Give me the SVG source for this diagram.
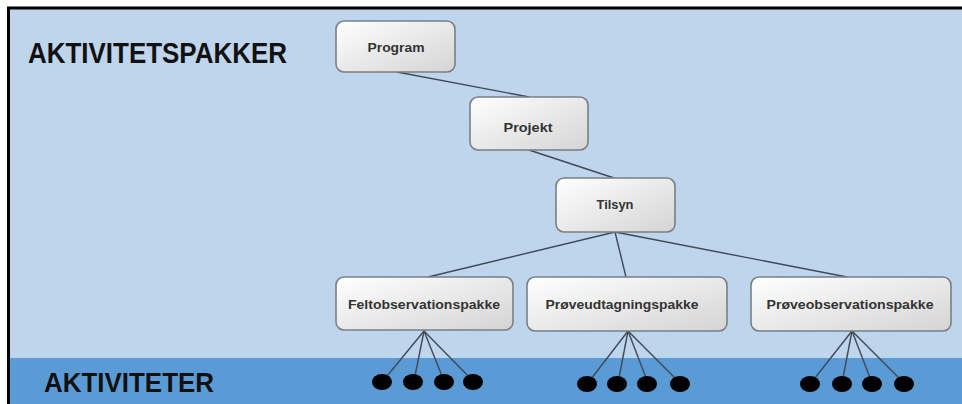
<svg xmlns="http://www.w3.org/2000/svg" width="962" height="404" viewBox="0 0 962 404">
<defs>
<linearGradient id="g" x1="0" y1="0" x2="1" y2="1">
<stop offset="0" stop-color="#ffffff"/>
<stop offset="1" stop-color="#d4d4d4"/>
</linearGradient>
<style>
.node rect{fill:url(#g);stroke:#7a7f86;stroke-width:1.6}
.node text{font-family:"Liberation Sans",Arial,sans-serif;font-weight:bold;font-size:12px;fill:#333;text-anchor:middle}
.big{font-family:"Liberation Sans",Arial,sans-serif;font-weight:bold;fill:#111}
#connectors line{stroke:#3d4a57;stroke-width:1.4}
.dot{fill:#000}
</style>
</defs>
<rect x="0" y="0" width="962" height="404" fill="#fff"/>
<rect x="9" y="8" width="953" height="396" fill="#bfd5ec"/>
<rect x="9" y="358" width="953" height="46" fill="#5b9bd5"/>
<path d="M8.5 404 V8 H962" fill="none" stroke="#000" stroke-width="3"/>
<text class="big" x="28" y="63" font-size="30" textLength="259" lengthAdjust="spacingAndGlyphs">AKTIVITETSPAKKER</text>
<text class="big" x="44" y="392" font-size="28" textLength="170" lengthAdjust="spacingAndGlyphs">AKTIVITETER</text>
<g id="connectors">
<line x1="397" y1="72" x2="529" y2="97"/>
<line x1="529" y1="150" x2="614" y2="178"/>
<line x1="615" y1="232" x2="428" y2="277"/>
<line x1="615" y1="232" x2="626" y2="277"/>
<line x1="615" y1="232" x2="847" y2="277"/>
<line x1="424" y1="331" x2="383" y2="381"/>
<line x1="424" y1="331" x2="414" y2="381"/>
<line x1="424" y1="331" x2="444" y2="381"/>
<line x1="424" y1="331" x2="473" y2="381"/>
<line x1="628" y1="331" x2="588" y2="383"/>
<line x1="628" y1="331" x2="618" y2="383"/>
<line x1="628" y1="331" x2="648" y2="383"/>
<line x1="628" y1="331" x2="680" y2="383"/>
<line x1="852" y1="331" x2="811" y2="383"/>
<line x1="852" y1="331" x2="842" y2="383"/>
<line x1="852" y1="331" x2="872" y2="383"/>
<line x1="852" y1="331" x2="904" y2="383"/>
</g>
<g id="activities">
<ellipse class="dot" cx="382" cy="382" rx="10" ry="8"/>
<ellipse class="dot" cx="413" cy="382" rx="10" ry="8"/>
<ellipse class="dot" cx="444" cy="382" rx="10" ry="8"/>
<ellipse class="dot" cx="473" cy="382" rx="10" ry="8"/>
<ellipse class="dot" cx="587" cy="384" rx="10" ry="8"/>
<ellipse class="dot" cx="617" cy="384" rx="10" ry="8"/>
<ellipse class="dot" cx="647" cy="384" rx="10" ry="8"/>
<ellipse class="dot" cx="680" cy="384" rx="10" ry="8"/>
<ellipse class="dot" cx="810" cy="384" rx="10" ry="8"/>
<ellipse class="dot" cx="842" cy="384" rx="10" ry="8"/>
<ellipse class="dot" cx="872" cy="384" rx="10" ry="8"/>
<ellipse class="dot" cx="904" cy="384" rx="10" ry="8"/>
</g>
<g id="program" class="node"><rect x="336" y="21" width="119" height="51" rx="8"/><text x="396" y="52" textLength="57" lengthAdjust="spacingAndGlyphs">Program</text></g>
<g id="projekt" class="node"><rect x="470" y="97" width="118" height="53" rx="8"/><text x="528" y="132" textLength="49" lengthAdjust="spacingAndGlyphs">Projekt</text></g>
<g id="tilsyn" class="node"><rect x="556" y="178" width="119" height="54" rx="8"/><text x="615" y="209" textLength="37" lengthAdjust="spacingAndGlyphs">Tilsyn</text></g>
<g id="feltobservationspakke" class="node"><rect x="336" y="277" width="177" height="53" rx="8"/><text x="424" y="309" textLength="152" lengthAdjust="spacingAndGlyphs">Feltobservationspakke</text></g>
<g id="proeveudtagningspakke" class="node"><rect x="527" y="277" width="200" height="54" rx="8"/><text x="622" y="309" textLength="153" lengthAdjust="spacingAndGlyphs">Prøveudtagningspakke</text></g>
<g id="proeveobservationspakke" class="node"><rect x="751" y="277" width="200" height="54" rx="8"/><text x="850" y="309" textLength="167" lengthAdjust="spacingAndGlyphs">Prøveobservationspakke</text></g>
</svg>
